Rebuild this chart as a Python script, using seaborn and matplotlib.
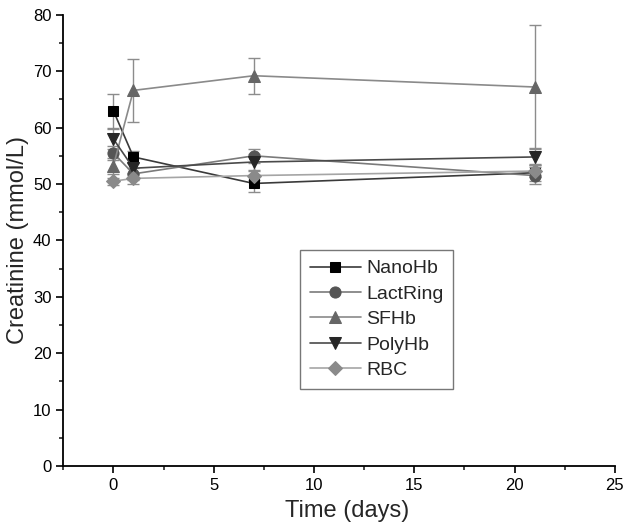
import matplotlib
matplotlib.use("Agg")
import matplotlib.pyplot as plt
import seaborn as sns
import pandas as pd
import numpy as np
from matplotlib.ticker import MultipleLocator

days = [0, 1, 7, 21]
series_names = ["NanoHb", "LactRing", "SFHb", "PolyHb", "RBC"]
nanohb = [63.0, 54.8, 50.1, 52.0]
nanohb_err = [3.0, 1.0, 1.5, 1.5]
lactring = [55.5, 51.8, 55.0, 51.5]
lactring_err = [1.2, 1.0, 1.2, 1.5]
sfhb = [53.2, 66.6, 69.2, 67.2]
sfhb_err = [1.5, 5.6, 3.2, 11.0]
polyhb = [58.0, 52.8, 53.9, 54.8]
polyhb_err = [1.8, 1.0, 1.5, 1.5]
rbc = [50.5, 51.0, 51.5, 52.3]
rbc_err = [0.6, 1.0, 0.8, 1.0]

values = [nanohb, lactring, sfhb, polyhb, rbc]
errors = [nanohb_err, lactring_err, sfhb_err, polyhb_err, rbc_err]

markers = ["s", "o", "^", "v", "D"]
marker_colors = ["#000000", "#555555", "#666666", "#262626", "#8a8a8a"]
line_colors = ["#3a3a3a", "#7a7a7a", "#8a8a8a", "#4a4a4a", "#a5a5a5"]
msizes = [7.5, 8, 8.5, 8.5, 7]

sns.set_theme(style="ticks")
plt.rcParams["font.family"] = ["Liberation Sans", "DejaVu Sans"]

fig = plt.figure(figsize=(6.32, 5.29), dpi=100)
ax = fig.add_axes([0.1, 0.119, 0.873, 0.853])

for name, v, e, m, mc, lc, ms in zip(series_names, values, errors, markers,
                                       marker_colors, line_colors, msizes):
    df = pd.DataFrame({"day": days, "val": v})
    ax.errorbar(days, v, yerr=e, fmt="none", ecolor="#8c8c8c", elinewidth=1.0,
                capsize=4, capthick=1.0, zorder=2)
    sns.lineplot(data=df, x="day", y="val", ax=ax, color=lc, linewidth=1.2,
                 marker=m, markersize=ms, markerfacecolor=mc,
                 markeredgecolor=mc, label=name, zorder=3)

ax.set_xlim(-2.5, 25)
ax.set_ylim(0, 80)
ax.xaxis.set_major_locator(MultipleLocator(5))
ax.xaxis.set_minor_locator(MultipleLocator(2.5))
ax.yaxis.set_major_locator(MultipleLocator(10))
ax.yaxis.set_minor_locator(MultipleLocator(5))
ax.tick_params(axis="both", which="major", direction="out", length=5, width=1.2,
               labelsize=12, colors="black")
ax.tick_params(axis="both", which="minor", direction="out", length=3, width=1.2)
for s in ["top", "right"]:
    ax.spines[s].set_visible(False)
for s in ["left", "bottom"]:
    ax.spines[s].set_linewidth(1.3)
    ax.spines[s].set_color("black")

ax.set_xlabel("Time (days)", fontsize=17, labelpad=4)
ax.xaxis.set_label_coords(0.515, -0.075)
ax.set_ylabel("Creatinine (mmol/L)", fontsize=17, labelpad=3)

leg = ax.legend(loc="upper left", bbox_to_anchor=(0.412, 0.50), fontsize=14,
                frameon=True, fancybox=False, edgecolor="#777777",
                handlelength=2.6, handletextpad=0.3, labelspacing=0.4,
                borderpad=0.5, framealpha=1)
leg.get_frame().set_linewidth(1.0)

fig.savefig("out.png", dpi=100)
